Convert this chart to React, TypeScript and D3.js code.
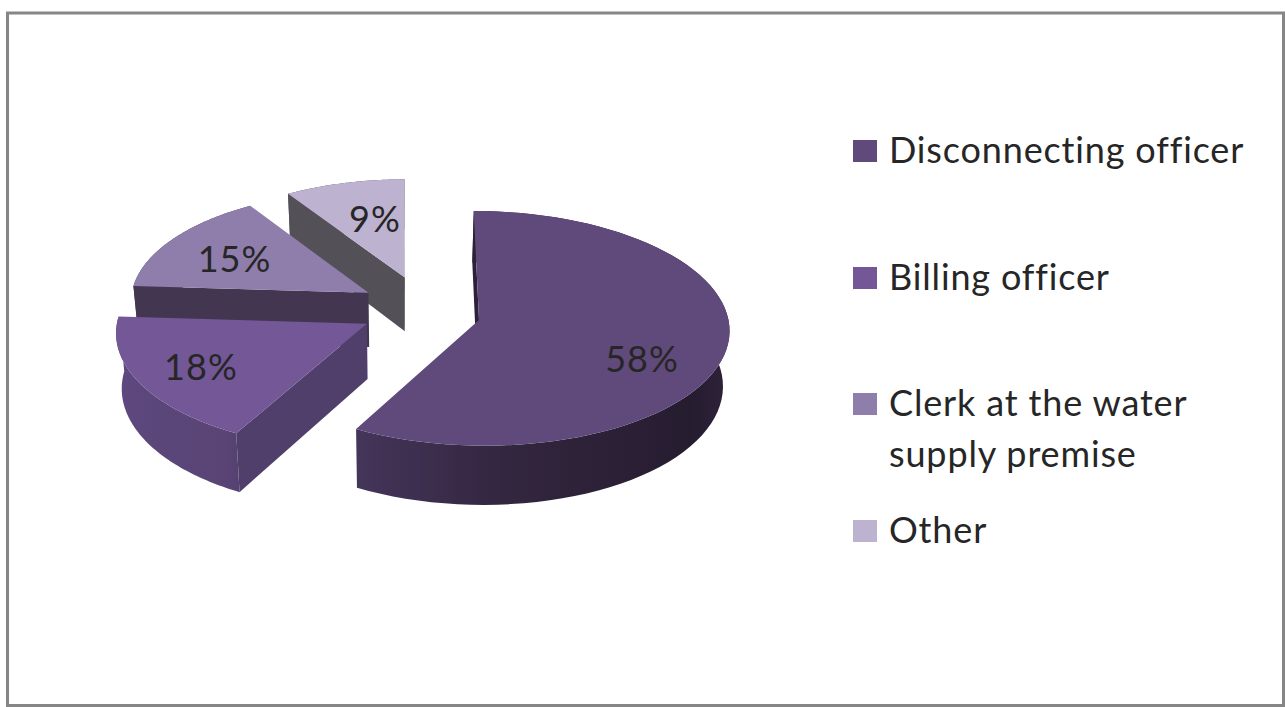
import * as d3 from "d3";

// Chart values
const categories = ["Disconnecting officer", "Billing officer", "Clerk at the water supply premise", "Other"];
const shares = [58, 18, 15, 9];

// Legend wrapping
const legendLines = [["Disconnecting officer"], ["Billing officer"], ["Clerk at the water", "supply premise"], ["Other"]];
const legendSwatchTops = [140, 267, 393, 520];
const legendBaselines = [[163], [290], [416, 467], [543]];

// Fill colours, one per slice
const topFills = ["#604a7b", "#735797", "#8f7dab", "#bdb2cf"];
const faceFills = ["#2d2139", "#513f6b", "#433650", "#545058"];
const rimStops = [
  ["#44355a", "#33263f", "#261c30", "#2e223a"],
  ["#5e4880", "#5b4679", "#5a4476", "#564272"],
  ["#433650", "#433650", "#433650", "#433650"],
  ["#545058", "#545058", "#545058", "#545058"],
];

// Ground-plane layout of the exploded pie; slices further back draw a little smaller
const pieCentre = { x: 425, y: 25 };
const sliceOffsets = [
  { x: 54, y: -25 },
  { x: -58, y: -33 },
  { x: -57, y: 34 },
  { x: -20, y: 68 },
];
const radiusScales = [0.99, 0.99, 0.955, 0.935];
const labelOffsets = [
  { x: 163, y: 52 },
  { x: -166, y: 56 },
  { x: -134, y: -21 },
  { x: -30, y: -46 },
];
const order = [3, 2, 1, 0];

const RADIUS = 252;
const DEPTH = 55;
const TILT = 0.468;
const PERSPECTIVE = 0.0717;
const VIEW_X = 400;
const HORIZON_Y = 320;
const Z_SHRINK = 0.02;

// Perspective projection of a ground point; lift 0 is the top face, 1 the base.
function project(wx: number, wy: number, lift: number): [number, number] {
  const s = 1 / (1 + (PERSPECTIVE * wy) / RADIUS);
  const zs = 1 - Z_SHRINK * lift;
  return [VIEW_X + (wx - VIEW_X) * s * zs, HORIZON_Y - TILT * wy * s + DEPTH * s * lift];
}

const pieLayout = d3.pie<number>().sort(null).value((d) => d)(shares);
const pathOf = d3.line<[number, number]>().x((p) => p[0]).y((p) => p[1]);
const radial = d3.scaleLinear().domain([0, 1]).range([0, RADIUS]);

function rimAngles(a0: number, a1: number): number[] {
  const n = 72;
  return d3.range(n + 1).map((i) => a0 + ((a1 - a0) * i) / n);
}

export default function App() {
  const geometry = pieLayout.map((arc, i) => {
    const ax = pieCentre.x + sliceOffsets[i].x;
    const ay = pieCentre.y + sliceOffsets[i].y;
    const r = radial(radiusScales[i]);
    const at = (theta: number, lift: number) =>
      project(ax + r * Math.sin(theta), ay + r * Math.cos(theta), lift);
    const angles = rimAngles(arc.startAngle, arc.endAngle);
    const topEdge = angles.map((t) => at(t, 0));
    const baseEdge = angles.map((t) => at(t, 1));
    const apexTop = project(ax, ay, 0);
    const apexBase = project(ax, ay, 1);
    const xs = topEdge.map((p) => p[0]);
    return {
      i,
      top: pathOf([apexTop, ...topEdge])! + "Z",
      rim: pathOf([...topEdge, ...baseEdge.slice().reverse()])! + "Z",
      face: pathOf([apexTop, at(arc.startAngle, 0), at(arc.startAngle, 1), apexBase])! + "Z",
      x0: d3.min(xs)!,
      x1: d3.max(xs)!,
      label: [apexTop[0] + labelOffsets[i].x, apexTop[1] + labelOffsets[i].y],
    };
  });

  return (
    <svg
      width={1285}
      height={707}
      style={{ position: "fixed", left: 0, top: 0, background: "#fff" }}
      fontFamily="Lato, Carlito, sans-serif"
    >
      <defs>
        {geometry.map((g) => (
          <linearGradient key={g.i} id={`rim-${g.i}`} gradientUnits="userSpaceOnUse" x1={g.x0} x2={g.x1} y1={0} y2={0}>
            {rimStops[g.i].map((c, j) => (
              <stop key={j} offset={[0, 0.4, 0.9, 1][j]} stopColor={c} />
            ))}
          </linearGradient>
        ))}
      </defs>

      <rect x={7.5} y={13} width={1276} height={692.5} fill="#fff" stroke="#868686" strokeWidth={3} />

      {order.map((idx) => {
        const g = geometry[idx];
        return (
          <g key={idx}>
            <path d={g.rim} fill={`url(#rim-${idx})`} />
            <path d={g.face} fill={faceFills[idx]} />
            <path d={g.top} fill={topFills[idx]} />
          </g>
        );
      })}

      {order.map((idx) => (
        <text
          key={idx}
          x={geometry[idx].label[0]}
          y={geometry[idx].label[1]}
          textAnchor="middle"
          fontSize={36}
          letterSpacing={1}
          fill="#262626"
        >
          {shares[idx]}%
        </text>
      ))}

      {categories.map((name, i) => (
        <g key={name}>
          <rect x={853} y={legendSwatchTops[i]} width={24} height={22} fill={topFills[i]} />
          {legendLines[i].map((line, j) => (
            <text key={line} x={889} y={legendBaselines[i][j]} fontSize={36} letterSpacing={0.85} fill="#262626">
              {line}
            </text>
          ))}
        </g>
      ))}
    </svg>
  );
}
